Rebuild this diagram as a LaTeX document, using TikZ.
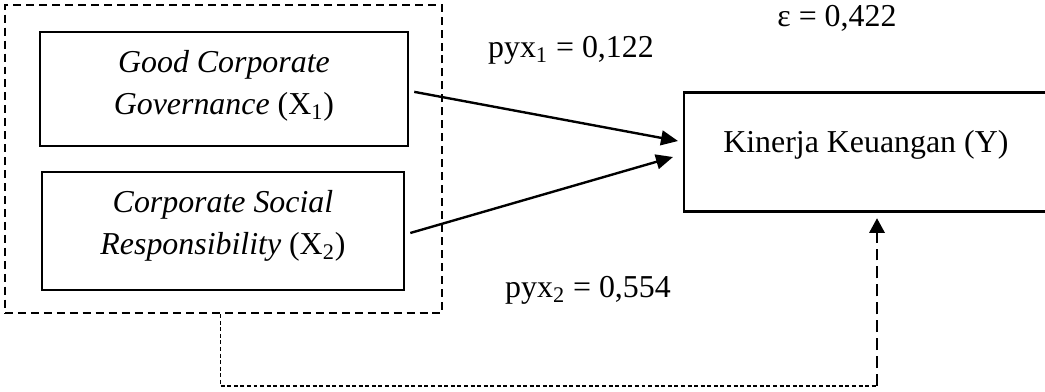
\documentclass[tikz,border=0pt]{standalone}
\usepackage{fontspec}
\setmainfont{Liberation Serif}
\usetikzlibrary{arrows.meta}

\tikzset{
  varbox/.style={draw, line width=1.2pt, inner sep=0pt, align=center},
  groupbox/.style={draw, line width=1.2pt, dash pattern=on 4pt off 2.5pt, inner sep=0pt},
  openbox/.style={line width=1.2pt},
  link/.style={line width=1.2pt, -{Triangle[length=0.3cm,width=0.26cm]}},
  thindash/.style={line width=0.6pt, dash pattern=on 2pt off 1.3pt},
  errlink/.style={line width=1.2pt, dash pattern=on 6pt off 3pt, -{Triangle[length=0.26cm,width=0.27cm]}},
}

\begin{document}
\begin{tikzpicture}[every node/.style={font=\fontsize{16}{21}\selectfont}]
     \useasboundingbox (0,0) rectangle (18.43,6.896);
     \clip (0,0) rectangle (18.43,6.896);

     \node[groupbox, minimum width=7.707cm, minimum height=5.432cm] (grp) at (3.942,4.092) {};
     \node[varbox, minimum width=6.49cm, minimum height=2.01cm] (X1) at (3.95,5.326)
          {\itshape Good Corporate\\ \itshape Governance \upshape(X\textsubscript{1})\rule[-0.23cm]{0pt}{0pt}};
     \node[varbox, minimum width=6.384cm, minimum height=2.081cm] (X2) at (3.933,2.822)
          {\itshape Corporate Social\\ \itshape Responsibility \upshape(X\textsubscript{2})\rule[-0.31cm]{0pt}{0pt}};
     \node[inner sep=0pt, minimum width=6.40cm, text height=1.05cm, text depth=1.03cm, anchor=west] (Y) at (12.063,4.215)
          {Kinerja Keuangan (Y)};
     \draw[openbox] ([xshift=1cm]Y.north east) -- (Y.north west) -- (Y.south west) -- ([xshift=1cm]Y.south east);

     \node[anchor=base, inner sep=0pt] (p1) at (10.07,5.89) {pyx\textsubscript{1} = 0,122};
     \node[anchor=base, inner sep=0pt] (p2) at (10.37,1.658) {pyx\textsubscript{2} = 0,554};
     \node[anchor=base, inner sep=0pt] (eps) at (14.76,6.437) {ε = 0,422};

     \draw[link] ([xshift=0.09cm,yshift=-0.05cm]X1.east) -- ([xshift=-0.105cm,yshift=0.194cm]Y.west);
     \draw[link] ([xshift=0.09cm,yshift=-0.035cm]X2.east) -- ([xshift=-0.194cm,yshift=-0.088cm]Y.west);

     \coordinate (corner) at (15.467,0.088);
     \draw[thindash] ([xshift=-0.06cm]grp.south) |- (corner);
     \draw[errlink, shorten >=0.12cm] (corner) -- (corner |- Y.south);
    \end{tikzpicture}
\end{document}
